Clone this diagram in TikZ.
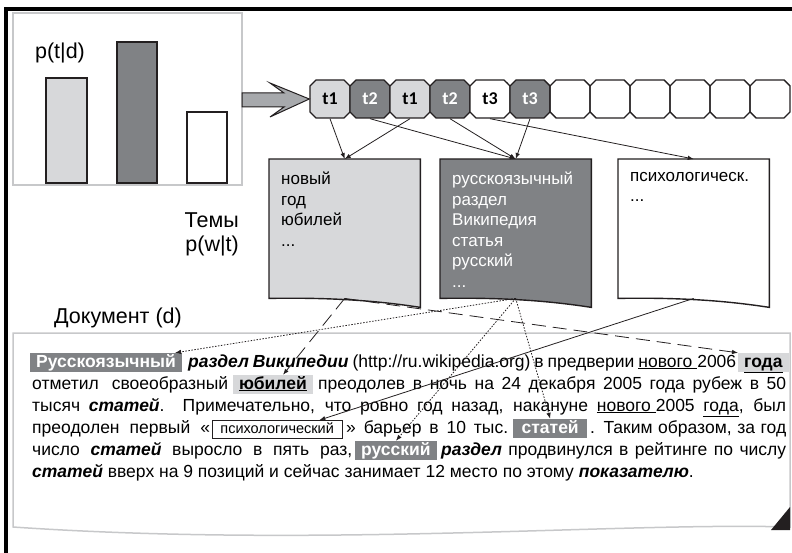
\documentclass[tikz,border=0pt]{standalone}
\usepackage{fontspec}
\setmainfont{Liberation Sans}
\newfontfamily\tokfont{Carlito}
\usetikzlibrary{arrows.meta, positioning, shapes.misc, backgrounds}

\definecolor{ink}{HTML}{231F20}
\definecolor{lightfill}{HTML}{D7D8DA}
\definecolor{darkfill}{HTML}{808285}
\definecolor{framegray}{HTML}{C7C8CA}
\definecolor{arrowgray}{HTML}{A7A9AC}

\newcommand{\wordlist}[1]{\parbox[c][123pt][t]{127pt}{\raggedright\vspace*{5pt}#1}}

\begin{document}
\begin{tikzpicture}[
        x=1pt, y=-1pt,
        node distance=40pt,
        cell/.style={chamfered rectangle, chamfered rectangle sep=3pt, draw=ink, line width=1.4pt,
            inner sep=0pt, text width=34pt, align=center, text height=22pt, text depth=10pt,
            font=\tokfont\bfseries\fontsize{18}{18}\selectfont},
        bar/.style={draw=ink, line width=1.8pt},
        topic/.style={inner xsep=12pt, inner ysep=8pt, anchor=north west,
            font=\fontsize{17}{20.5}\selectfont},
        docshape/.style={draw=ink, line width=1.4pt},
        lbl/.style={inner sep=0pt, font=\fontsize{21.5}{24}\selectfont},
        seg/.style={inner sep=0pt, anchor=base west, font=\fontsize{17.5}{20}\selectfont},
        hldark/.style={fill=darkfill, text=white, inner xsep=6pt, inner ysep=1.5pt,
            text height=12.5pt, text depth=3.5pt, anchor=base west,
            font=\fontsize{17.5}{20}\selectfont\bfseries},
        hllight/.style={hldark, fill=lightfill, text=black},
        hlframe/.style={draw=ink, fill=white, line width=0.8pt, inner xsep=8pt, inner ysep=2pt,
            text height=10.5pt, text depth=3pt, anchor=base west,
            font=\fontsize{14.5}{16}\selectfont}
    ]

    \tikzset{
    link/.style={-{Latex[length=6pt, width=4.5pt]}, ink, line width=0.8pt},
    dashlink/.style={link, dash pattern=on 14pt off 7pt},
    dotlink/.style={link, dash pattern=on 1.5pt off 1.5pt}
}

    \useasboundingbox (0,0) rectangle (792,553);
    \draw[line width=4pt] (6,553) -- (6,9) -- (792,9);

    % p(t|d)
    \draw[framegray, line width=1.5pt] (13,13) rectangle (242,185);
    \node[lbl] (ptd) at (60,53) {p(t|d)};
    \draw[bar, fill=lightfill] (46,78) rectangle (87,183);
    \draw[bar, fill=darkfill] (117,42) rectangle (157,183);
    \draw[bar, fill=white] (187,112) rectangle (227,183);

    % token cells
    \node[cell, fill=lightfill] (c1) at (330,99) {t1};
    \node[cell, fill=darkfill, text=white, right of=c1] (c2) {t2};
    \node[cell, fill=lightfill, right of=c2] (c3) {t1};
    \node[cell, fill=darkfill, text=white, right of=c3] (c4) {t2};
    \node[cell, fill=white, right of=c4] (c5) {t3};
    \node[cell, fill=darkfill, text=white, right of=c5] (c6) {t3};
    \node[cell, right of=c6] (c7) {};
    \node[cell, right of=c7] (c8) {};
    \node[cell, right of=c8] (c9) {};
    \node[cell, right of=c9] (c10) {};
    \node[cell, right of=c10] (c11) {};
    \node[cell, right of=c11] (c12) {};

    \draw[fill=arrowgray, draw=ink, line width=1pt]
        (242,93) -- (284,93) -- (270,83) -- (c1.west) -- (270,117) -- (284,107) -- (242,107) -- cycle;

    % topics
    \node[topic] (topicA) at (269,159) {\wordlist{новый\\год\\юбилей\\...}};
    \node[topic, text=white] (topicB) at (440,159) {\wordlist{русскоязычный\\раздел\\Википедия\\статья\\русский\\...}};
    \node[topic] (topicC) at (618,159) {\wordlist{психологическ.\\...}};
    \begin{scope}[on background layer]
        \foreach \t/\c in {topicA/lightfill, topicB/darkfill, topicC/white}
            \draw[docshape, fill=\c] (\t.north west) -- (\t.north east) -- ([yshift=-9pt]\t.south east)
                .. controls ([xshift=-45pt, yshift=-2pt]\t.south east) and ([xshift=60pt, yshift=1pt]\t.south west)
                .. (\t.south west) -- cycle;
    \end{scope}
    \node[lbl, align=right, anchor=east] (pwt) at (239,234) {Темы\\p(w|t)};

    \draw[link] (c1.south) -- (topicA.north);
    \draw[link] (c3.south) -- (topicA.north);
    \draw[link] (c2.south) -- (topicB.north);
    \draw[link] (c4.south) -- (topicB.north);
    \draw[link] (c6.south) -- (topicB.north);
    \draw[link] (c5.south) -- (topicC.north);

    % document
    \node[lbl] (doc) at (118,318) {Документ (d)};
    \draw[framegray, line width=1.5pt] (13,333) -- (790,333) -- (790,527)
        .. controls (620,522) and (320,548) .. (13,527) -- cycle;
    \fill[ink] (790,507) -- (790,530) -- (771,530) -- cycle;

    \node[hldark] (rus) at (30,367) {Русскоязычный};
    \node[seg] (l1a) at (188,367) {\makebox[548pt][s]{\textbf{\textit{раздел Википедии}} (http://ru.wikipedia.org) в предверии \underline{нового\ }2006}};
    \node[hllight] (goda) at (738,367) {\underline{года}};

    \node[seg] (l2a) at (32,389) {\makebox[196pt][s]{отметил своеобразный}};
    \node[hllight] (jub) at (233,389) {\underline{юбилей}};
    \node[seg] (l2b) at (318,389) {\makebox[468pt][s]{преодолев в ночь на 24 декабря 2005 года рубеж в 50}};

    \node[seg] (l3a) at (32,411) {\makebox[754pt][s]{тысяч \textbf{\textit{статей}}. Примечательно, что ровно год назад, накануне \underline{нового\ }2005 \underline{года}, был}};

    \node[seg] (l4a) at (32,433) {\makebox[178pt][s]{преодолен первый «}};
    \node[hlframe] (psy) at (212,433) {психологический};
    \node[seg] (l4b) at (346,433) {\makebox[162pt][s]{» барьер в 10 тыс.}};
    \node[hldark, minimum width=74pt] (stat) at (513,433) {статей};
    \node[seg] (l4c) at (590,433) {\makebox[196pt][s]{. Таким образом, за год}};

    \node[seg] (l5a) at (32,455) {\makebox[320pt][s]{число \textbf{\textit{статей}} выросло в пять раз,}};
    \node[hldark] (ruk) at (355,455) {русский};
    \node[seg] (l5b) at (441,455) {\makebox[345pt][s]{\textbf{\textit{раздел}} продвинулся в рейтинге по числу}};

    \node[seg] (l6a) at (32,477) {\textbf{\textit{статей}} вверх на 9 позиций и сейчас занимает 12 место по этому \textbf{\textit{показателю}}.};

    \draw[dashlink] (topicA.south) -- ([xshift=10pt]jub.north);
    \draw[dashlink] (topicA.south) -- (goda.north west);
    \draw[dotlink] (topicB.south) -- ([xshift=-7pt]rus.north east);
    \draw[dotlink] (topicB.south) -- (ruk.north);
    \draw[dotlink] (topicB.south) -- (stat.north);
    \draw[link] (topicC.south) -- ([xshift=-23pt]psy.north east);
\end{tikzpicture}
\end{document}
